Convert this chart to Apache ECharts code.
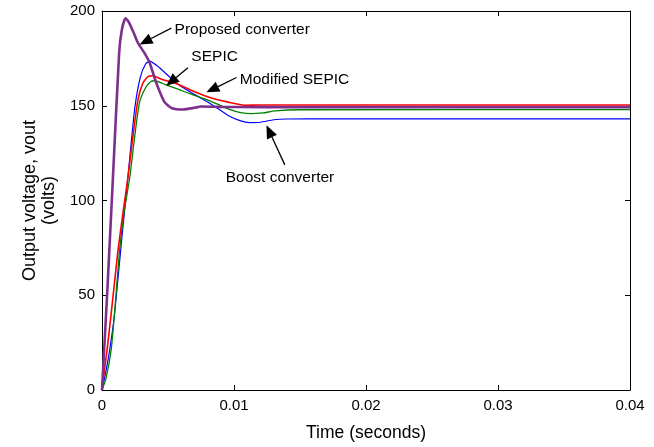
<!DOCTYPE html>
<html>
<head>
<meta charset="utf-8">
<script src="https://cdn.jsdelivr.net/npm/echarts@6/dist/echarts.min.js"></script>
<style>
html,body{margin:0;padding:0;background:#fff;}
#chart{width:654px;height:447px;}
</style>
</head>
<body>
<div id="chart"></div>
<script>
// ---- data (time in seconds, voltage in volts) ----
const xTickLabels = ['0', '0.01', '0.02', '0.03', '0.04'];
const yTickLabels = ['0', '50', '100', '150', '200'];

const proposedT = [0, 0.0004, 0.0008, 0.0013, 0.0015, 0.00178, 0.002, 0.0024, 0.00272, 0.0032, 0.0036, 0.0041, 0.00474, 0.0053, 0.00613, 0.007, 0.0075, 0.009, 0.012, 0.04];
const proposedV = [0, 52, 108, 178, 190, 196.2, 194.5, 188.5, 183.2, 178, 172.8, 162.3, 151.9, 148.7, 148, 148.9, 149.6, 149.4, 149.3, 149.3];

const boostT = [0, 0.0003, 0.0006, 0.00095, 0.0015, 0.00196, 0.00247, 0.0029, 0.0033, 0.0036, 0.0042, 0.005, 0.00575, 0.007, 0.00803, 0.009, 0.00955, 0.0105, 0.0112, 0.012, 0.013, 0.014, 0.017, 0.04];
const boostV = [0, 10, 22, 40, 80, 112, 148, 165, 172, 173.6, 171, 166, 161.4, 156, 151.9, 147.5, 144.9, 142, 141.1, 141.3, 142.6, 143, 143.1, 143.1];

const sepicT = [0, 0.0001, 0.0004, 0.0008, 0.0012, 0.0016, 0.00196, 0.0024, 0.00272, 0.0031, 0.0035, 0.00386, 0.0045, 0.00575, 0.0068, 0.00778, 0.0087, 0.00955, 0.0108, 0.012, 0.04];
const sepicV = [0, 6, 22, 47, 73, 94, 112, 137, 153, 162, 165.5, 165.8, 164, 161.4, 158, 155.3, 153.3, 151.9, 150.3, 150.4, 150.4];

const modSepicT = [0, 0.0003, 0.0007, 0.001, 0.00133, 0.0017, 0.0021, 0.0025, 0.00285, 0.0033, 0.0037, 0.00398, 0.0048, 0.00575, 0.0068, 0.00778, 0.0087, 0.00955, 0.0105, 0.0113, 0.0122, 0.0131, 0.015, 0.04];
const modSepicV = [0, 6, 21.4, 45, 73.6, 95, 112, 135, 151.9, 159.5, 162.8, 163.2, 161.2, 158.8, 156, 153.6, 151, 148.4, 146.4, 145.8, 146.2, 147.3, 147.9, 148];

// annotations: label, text anchor (left-middle), arrow tail, arrow tip (data units)
const annoLabels = ['Proposed converter', 'SEPIC', 'Modified SEPIC', 'Boost converter'];
const annoText = [[0.0055, 190.2], [0.00677, 175.7], [0.01044, 164], [0.00937, 111.8]];
const annoTail = [[0.00525, 191], [0.00651, 170.1], [0.01019, 164.9], [0.01385, 118.8]];
const annoTip  = [[0.00285, 182.3], [0.00487, 160.5], [0.00791, 157.1], [0.01246, 139.7]];

function pairs(t, v) { return t.map((x, i) => [x, v[i]]); }

const FONT = 'Liberation Sans, Arial, Helvetica, sans-serif';
const chart = echarts.init(document.getElementById('chart'), null, {renderer: 'canvas'});

const axisCommon = {
  axisLine: {show: true, onZero: false, lineStyle: {color: '#000', width: 1}},
  axisTick: {show: true, inside: true, length: 5, lineStyle: {color: '#000'}},
  splitLine: {show: false}
};

const option = {
  animation: false,
  backgroundColor: '#fff',
  grid: {left: 102, right: 24, top: 11, bottom: 52, containLabel: false},
  xAxis: [
    Object.assign({}, axisCommon, {
      type: 'value', position: 'bottom', min: 0, max: 0.04, interval: 0.01,
      axisLabel: {color: '#000', fontFamily: FONT, fontSize: 15, margin: 8,
        formatter: v => xTickLabels[Math.round(v / 0.01)]},
      name: 'Time (seconds)', nameLocation: 'middle', nameGap: 34,
      nameTextStyle: {color: '#000', fontFamily: FONT, fontSize: 17.5}
    }),
    Object.assign({}, axisCommon, {
      type: 'value', position: 'top', min: 0, max: 0.04, interval: 0.01,
      axisLabel: {show: false}
    })
  ],
  yAxis: [
    Object.assign({}, axisCommon, {
      type: 'value', position: 'left', min: 0, max: 200, interval: 50,
      axisLabel: {color: '#000', fontFamily: FONT, fontSize: 15, margin: 7,
        formatter: v => yTickLabels[Math.round(v / 50)]},
      name: 'Output voltage, vout\n(volts)', nameLocation: 'middle', nameGap: 43, nameRotate: 90,
      nameTextStyle: {color: '#000', fontFamily: FONT, fontSize: 18, lineHeight: 19, align: 'center'}
    }),
    Object.assign({}, axisCommon, {
      type: 'value', position: 'right', min: 0, max: 200, interval: 50,
      axisLabel: {show: false}
    })
  ],
  series: [
    {name: 'Boost converter', type: 'line', data: pairs(boostT, boostV), showSymbol: false,
     smooth: 0.2, lineStyle: {color: '#0000ff', width: 1.2}, z: 2},
    {name: 'Modified SEPIC', type: 'line', data: pairs(modSepicT, modSepicV), showSymbol: false,
     smooth: 0.2, lineStyle: {color: '#008000', width: 1.3}, z: 3},
    {name: 'SEPIC', type: 'line', data: pairs(sepicT, sepicV), showSymbol: false,
     smooth: 0.2, lineStyle: {color: '#ff0000', width: 1.6}, z: 4},
    {name: 'Proposed converter', type: 'line', data: pairs(proposedT, proposedV), showSymbol: false,
     smooth: 0.2, lineStyle: {color: '#7e2f8e', width: 2.6}, z: 5}
  ]
};
chart.setOption(option);

// build annotation graphics from data coordinates
const finder = {xAxisIndex: 0, yAxisIndex: 0};
const elements = [];
const HEAD_L = 13, HEAD_W = 11;
for (let i = 0; i < annoLabels.length; i++) {
  const tp = chart.convertToPixel(finder, annoText[i]);
  const tail = chart.convertToPixel(finder, annoTail[i]);
  const tip = chart.convertToPixel(finder, annoTip[i]);
  const dx = tip[0] - tail[0], dy = tip[1] - tail[1];
  const len = Math.sqrt(dx * dx + dy * dy);
  const ux = dx / len, uy = dy / len;
  const bx = tip[0] - ux * HEAD_L, by = tip[1] - uy * HEAD_L;
  const px = -uy * HEAD_W / 2, py = ux * HEAD_W / 2;
  elements.push({type: 'line', z: 100, shape: {x1: tail[0], y1: tail[1], x2: bx, y2: by},
    style: {stroke: '#000', lineWidth: 1.3}});
  elements.push({type: 'polygon', z: 100, shape: {points: [[tip[0], tip[1]], [bx + px, by + py], [bx - px, by - py]]},
    style: {fill: '#000'}});
  elements.push({type: 'text', z: 100, x: tp[0], y: tp[1],
    style: {text: annoLabels[i], fill: '#000', font: '15.5px ' + FONT,
      align: 'left', verticalAlign: 'middle', textAlign: 'left', textVerticalAlign: 'middle'}});
}
chart.setOption({graphic: {elements: elements}});
</script>
</body>
</html>
